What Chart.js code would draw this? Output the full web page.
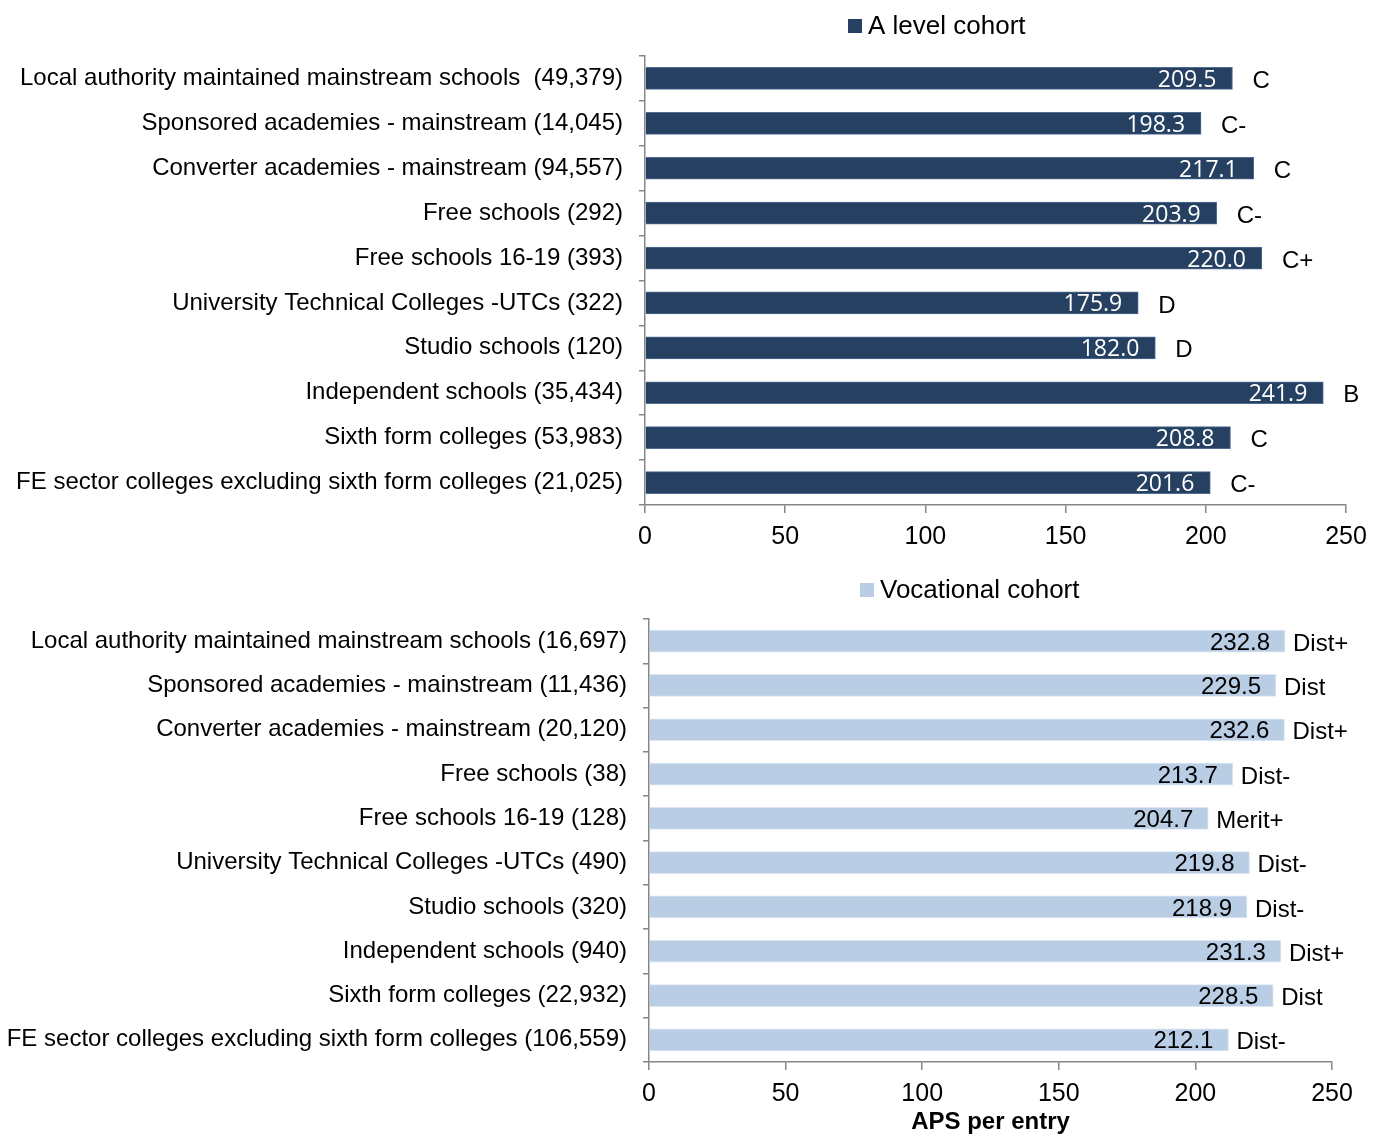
<!DOCTYPE html>
<html>
<head>
<meta charset="utf-8">
<script src="https://cdn.jsdelivr.net/npm/chart.js@4.4.1/dist/chart.umd.min.js"></script>
<style>
  html, body { margin: 0; padding: 0; background: #ffffff; }
  #wrap { position: relative; width: 1382px; height: 1135px; overflow: hidden; }
  .box { position: absolute; left: 0; width: 1382px; }
  #topBox { top: 0; height: 565px; }
  #botBox { top: 565px; height: 570px; }
</style>
</head>
<body>
<div id="wrap">
  <div class="box" id="topBox"><canvas id="topChart"></canvas></div>
  <div class="box" id="botBox"><canvas id="botChart"></canvas></div>
</div>
<script>
// ---- Data ----
const aLevelCategories = [
  "Local authority maintained mainstream schools  (49,379)",
  "Sponsored academies - mainstream (14,045)",
  "Converter academies - mainstream (94,557)",
  "Free schools (292)",
  "Free schools 16-19 (393)",
  "University Technical Colleges -UTCs (322)",
  "Studio schools (120)",
  "Independent schools (35,434)",
  "Sixth form colleges (53,983)",
  "FE sector colleges excluding sixth form colleges (21,025)"
];
const aLevelValues = [209.5, 198.3, 217.1, 203.9, 220.0, 175.9, 182.0, 241.9, 208.8, 201.6];
const aLevelGrades = ["C", "C-", "C", "C-", "C+", "D", "D", "B", "C", "C-"];

const vocCategories = [
  "Local authority maintained mainstream schools (16,697)",
  "Sponsored academies - mainstream (11,436)",
  "Converter academies - mainstream (20,120)",
  "Free schools (38)",
  "Free schools 16-19 (128)",
  "University Technical Colleges -UTCs (490)",
  "Studio schools (320)",
  "Independent schools (940)",
  "Sixth form colleges (22,932)",
  "FE sector colleges excluding sixth form colleges (106,559)"
];
const vocValues = [232.8, 229.5, 232.6, 213.7, 204.7, 219.8, 218.9, 231.3, 228.5, 212.1];
const vocGrades = ["Dist+", "Dist", "Dist+", "Dist-", "Merit+", "Dist-", "Dist-", "Dist+", "Dist", "Dist-"];

const xMin = 0, xMax = 250, xStep = 50;
const axisTitle = "APS per entry";

// ---- Helpers ----
const FONT = "'Liberation Sans', Arial, sans-serif";
const AXIS_COLOR = "#868686";

function labelsPlugin(id, grades, valueColor, valueFont, valueGap, gradeGap) {
  return {
    id: id,
    afterDatasetsDraw(chart) {
      const ctx = chart.ctx;
      const meta = chart.getDatasetMeta(0);
      const ds = chart.data.datasets[0];
      ctx.save();
      meta.data.forEach((bar, i) => {
        const v = ds.data[i];
        ctx.font = valueFont;
        ctx.fillStyle = valueColor;
        ctx.textAlign = "right";
        ctx.textBaseline = "middle";
        ctx.fillText(v.toFixed(1), bar.x - valueGap, bar.y + 2);
        ctx.font = "24px " + FONT;
        ctx.fillStyle = "#000000";
        ctx.textAlign = "left";
        ctx.fillText(grades[i], bar.x + gradeGap, bar.y + 3);
      });
      ctx.restore();
    }
  };
}

function legendPlugin(id, boxX, centerY, color) {
  return {
    id: id,
    afterDraw(chart) {
      const ctx = chart.ctx;
      const text = chart.data.datasets[0].label;
      ctx.save();
      ctx.font = "26px " + FONT;
      const box = 14, gap = 6;
      ctx.fillStyle = color;
      ctx.fillRect(boxX, centerY - box / 2, box, box);
      ctx.fillStyle = "#000000";
      ctx.textAlign = "left";
      ctx.textBaseline = "middle";
      ctx.fillText(text, boxX + box + gap, centerY + 1);
      ctx.restore();
    }
  };
}

function makeChart(canvasId, cats, vals, label, fill, border, yWidth, xHeight, topPad, rightPad, plugins, withTitle) {
  return new Chart(document.getElementById(canvasId), {
    type: "bar",
    data: {
      labels: cats,
      datasets: [{
        label: label,
        data: vals,
        backgroundColor: fill,
        borderColor: border,
        borderWidth: 1,
        barThickness: 22
      }]
    },
    options: {
      indexAxis: "y",
      responsive: true,
      maintainAspectRatio: false,
      animation: false,
      layout: { padding: { top: topPad, right: rightPad, left: 0, bottom: 0 } },
      plugins: { legend: { display: false }, tooltip: { enabled: false } },
      scales: {
        x: {
          min: xMin, max: xMax,
          ticks: { stepSize: xStep, color: "#000000", font: { family: FONT, size: 25 }, padding: 9, maxRotation: 0 },
          grid: { drawOnChartArea: false, drawTicks: true, tickLength: 8, color: AXIS_COLOR, lineWidth: 1.5 },
          border: { color: AXIS_COLOR, width: 1.5 },
          title: withTitle ? { display: true, text: axisTitle, color: "#000000", font: { family: FONT, size: 24, weight: "bold" }, padding: { top: 0, bottom: -2 } } : { display: false },
          afterFit(scale) { scale.height = xHeight; }
        },
        y: {
          ticks: { color: "#000000", font: { family: FONT, size: 24 }, padding: 16 },
          grid: { drawOnChartArea: false, drawTicks: true, tickLength: 6, color: AXIS_COLOR, lineWidth: 1.5, offset: true },
          border: { color: AXIS_COLOR, width: 1.5 },
          afterFit(scale) { scale.width = yWidth; }
        }
      }
    },
    plugins: plugins
  });
}

makeChart("topChart", aLevelCategories, aLevelValues, "A level cohort", "#264061", "#4F6D93",
  645, 60, 56, 36,
  [labelsPlugin("topLabels", aLevelGrades, "#ffffff", "23px 'Open Sans', sans-serif", 16, 20),
   legendPlugin("topLegend", 848, 26, "#264061")], false);

makeChart("botChart", vocCategories, vocValues, "Vocational cohort", "#B9CDE5", "#DCE6F2",
  649, 73, 54, 50,
  [labelsPlugin("botLabels", vocGrades, "#000000", "24px " + FONT, 15, 8),
   legendPlugin("botLegend", 860, 25, "#B9CDE5")], true);
</script>
</body>
</html>
